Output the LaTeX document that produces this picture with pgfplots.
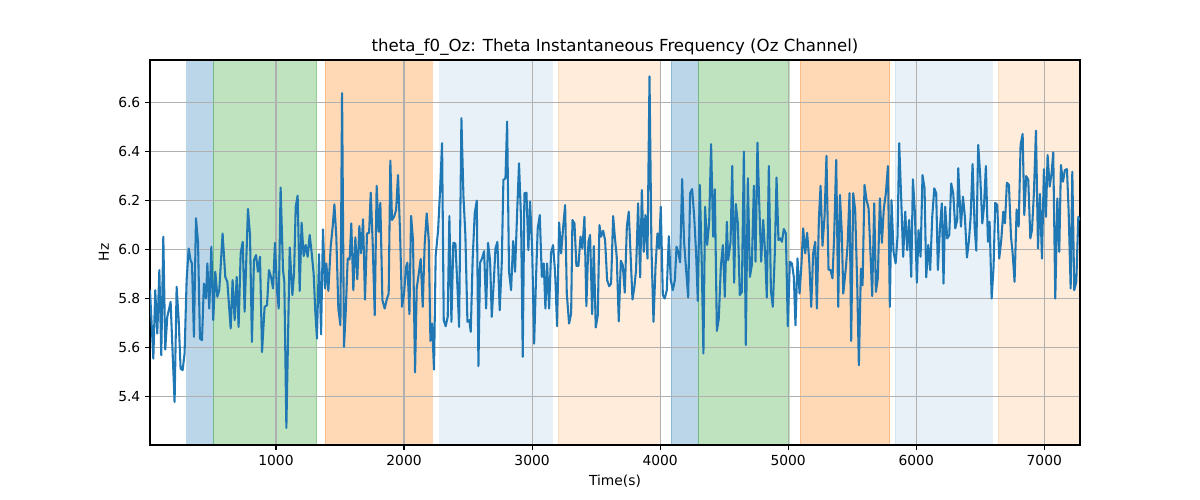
\documentclass[border=0pt]{standalone}
\usepackage{pgfplots}
\pgfplotsset{compat=1.18}
\usepackage{fontspec}
\setmainfont{DejaVu Sans}
\definecolor{tabblue}{HTML}{1F77B4}
\definecolor{tabgreen}{HTML}{2CA02C}
\definecolor{taborange}{HTML}{FF7F0E}
\definecolor{gridgray}{HTML}{B0B0B0}
\pgfplotsset{myspan/.style={draw=#1, fill=#1}}
\begin{document}
\begin{tikzpicture}
\begin{axis}[
  set layers,
  scale only axis, width=9.3in, height=3.85in,
  xmin=16, xmax=7279, ymin=5.203, ymax=6.772,
  xtick={1000,2000,3000,4000,5000,6000,7000},
  ytick={5.4,5.6,5.8,6.0,6.2,6.4,6.6},
  xtick pos=bottom, ytick pos=left,
  /pgf/number format/assume math mode=true,
  xticklabel style={/pgf/number format/1000 sep={}},
  yticklabel style={/pgf/number format/fixed,/pgf/number format/fixed zerofill,/pgf/number format/precision=1},
  tick label style={font=\fontsize{10}{12}\selectfont},
  label style={font=\fontsize{10}{12}\selectfont},
  title style={font=\fontsize{12}{14}\selectfont, yshift=-6.5pt},
  grid=major, grid style={color=gridgray, line width=0.8pt},
  tick align=outside, major tick length=3.5pt,
  tick style={black, line width=0.8pt},
  axis line style={line width=0.8pt},
  title={theta\_f0\_Oz: Theta Instantaneous Frequency (Oz Channel)},
  xlabel={Time(s)}, ylabel={Hz},
]
\pgfonlayer{axis background}
\addplot[myspan=tabblue, draw opacity=0.3, fill opacity=0.3] coordinates {(302,5.203) (302,6.772) (511,6.772) (511,5.203)} -- cycle;
\addplot[myspan=tabgreen, draw opacity=0.3, fill opacity=0.3] coordinates {(511,5.203) (511,6.772) (1318,6.772) (1318,5.203)} -- cycle;
\addplot[myspan=taborange, draw opacity=0.3, fill opacity=0.3] coordinates {(1381,5.203) (1381,6.772) (2222,6.772) (2222,5.203)} -- cycle;
\addplot[myspan=tabblue, draw opacity=0.1, fill opacity=0.1] coordinates {(2279,5.203) (2279,6.772) (3154,6.772) (3154,5.203)} -- cycle;
\addplot[myspan=taborange, draw opacity=0.15, fill opacity=0.15] coordinates {(3201,5.203) (3201,6.772) (4000,6.772) (4000,5.203)} -- cycle;
\addplot[myspan=tabblue, draw opacity=0.3, fill opacity=0.3] coordinates {(4086,5.203) (4086,6.772) (4294,6.772) (4294,5.203)} -- cycle;
\addplot[myspan=tabgreen, draw opacity=0.3, fill opacity=0.3] coordinates {(4294,5.203) (4294,6.772) (5005,6.772) (5005,5.203)} -- cycle;
\addplot[myspan=taborange, draw opacity=0.3, fill opacity=0.3] coordinates {(5091,5.203) (5091,6.772) (5792,6.772) (5792,5.203)} -- cycle;
\addplot[myspan=tabblue, draw opacity=0.1, fill opacity=0.1] coordinates {(5834,5.203) (5834,6.772) (6591,6.772) (6591,5.203)} -- cycle;
\addplot[myspan=taborange, draw opacity=0.15, fill opacity=0.15] coordinates {(6638,5.203) (6638,6.772) (7279,6.772) (7279,5.203)} -- cycle;
\endpgfonlayer
% signal
\addplot[tabblue, line width=1.5pt, line join=round, no markers] table {
x y
16 5.834
42 5.555
57 5.834
73 5.657
89 5.916
104 5.569
120 6.052
135 5.592
151 5.725
177 5.786
208 5.378
224 5.848
240 5.712
255 5.514
271 5.508
286 5.576
302 5.875
318 6.004
333 5.956
344 5.943
359 5.644
375 6.127
391 6.031
406 5.637
422 5.630
437 5.861
453 5.800
464 5.943
479 5.759
495 6.011
510 5.712
526 5.909
542 5.807
557 5.834
583 6.065
604 5.888
620 5.868
646 5.678
661 5.875
677 5.712
693 5.888
708 5.684
724 5.984
740 6.031
755 5.746
781 6.165
797 6.059
812 5.623
828 5.956
844 5.977
859 5.909
875 5.970
891 5.582
911 5.766
930 5.773
945 5.916
961 5.888
977 5.841
992 6.027
1008 5.834
1021 5.759
1036 6.252
1055 5.916
1065 5.868
1081 5.272
1107 6.008
1128 5.814
1141 5.902
1154 6.174
1169 6.219
1185 5.831
1200 6.109
1216 5.973
1232 6.018
1247 5.970
1263 6.059
1279 5.984
1294 5.902
1307 5.746
1320 5.637
1336 5.981
1352 5.654
1367 6.082
1383 5.841
1393 5.943
1409 5.831
1427 6.011
1443 6.095
1456 6.184
1471 6.052
1487 5.759
1503 5.691
1516 6.637
1531 5.603
1544 5.739
1560 5.963
1575 5.959
1588 6.106
1604 5.834
1620 6.049
1635 5.878
1651 6.095
1664 5.984
1680 6.123
1695 5.796
1711 6.065
1727 6.068
1740 6.231
1755 6.027
1771 5.732
1786 6.259
1802 6.072
1815 6.190
1831 5.793
1849 5.759
1865 5.796
1880 5.820
1893 6.362
1906 6.120
1922 6.133
1938 6.161
1953 6.303
1969 6.065
1984 5.766
2000 5.820
2016 5.929
2026 5.946
2042 5.736
2055 6.137
2070 6.038
2086 5.499
2099 5.841
2115 5.902
2130 5.961
2146 5.766
2161 6.020
2177 6.147
2193 6.038
2206 5.627
2219 5.698
2234 5.510
2247 5.973
2266 6.079
2281 6.235
2297 6.433
2310 5.712
2325 5.687
2341 5.725
2354 6.136
2370 5.705
2385 6.027
2401 6.024
2417 5.848
2430 5.684
2448 6.535
2464 6.215
2479 6.059
2495 5.705
2510 5.712
2521 5.664
2536 5.963
2552 6.147
2568 6.199
2581 5.524
2594 5.946
2609 5.963
2625 5.993
2641 5.759
2656 6.027
2672 5.954
2685 5.725
2700 5.861
2714 6.004
2729 6.031
2747 5.752
2763 5.943
2776 6.283
2792 6.290
2805 6.521
2820 5.909
2836 5.834
2852 6.034
2867 5.909
2883 6.147
2898 6.351
2914 6.120
2927 5.562
2940 6.229
2956 6.231
2971 5.997
2984 6.195
3000 6.011
3016 5.616
3031 5.888
3044 6.086
3060 6.140
3076 5.888
3091 5.943
3104 5.759
3117 5.943
3133 5.759
3148 5.984
3164 6.018
3180 5.902
3195 5.687
3211 6.110
3227 5.984
3242 6.086
3258 6.181
3271 5.820
3289 5.698
3305 5.739
3315 6.120
3331 6.106
3346 5.933
3362 5.933
3378 6.052
3393 6.004
3409 6.133
3424 5.769
3440 6.031
3453 6.059
3469 5.736
3482 6.014
3497 5.682
3513 5.732
3526 6.099
3539 6.052
3555 6.076
3570 6.038
3586 5.875
3602 5.850
3617 5.861
3633 6.136
3646 6.052
3661 5.970
3677 5.707
3693 5.954
3708 5.936
3724 5.824
3740 6.093
3755 6.154
3771 5.956
3784 5.796
3799 5.848
3812 5.916
3828 6.188
3844 5.886
3857 6.242
3872 5.990
3885 6.140
3901 5.963
3917 6.705
3932 6.011
3948 5.705
3964 5.929
3979 6.065
3992 6.004
4005 6.174
4021 5.814
4036 5.800
4052 5.834
4068 6.054
4083 5.875
4099 5.834
4115 5.875
4128 6.011
4141 5.990
4156 5.947
4172 6.287
4187 6.031
4203 5.916
4219 5.804
4234 6.229
4250 6.246
4266 6.133
4281 5.984
4294 5.790
4310 6.263
4325 5.943
4338 5.576
4351 6.174
4367 6.018
4383 6.110
4398 6.429
4414 6.052
4427 6.245
4443 5.668
4458 5.718
4474 5.929
4490 6.018
4505 5.807
4521 6.113
4531 5.956
4550 6.031
4563 6.340
4578 5.864
4591 6.185
4607 6.106
4622 5.814
4638 5.827
4654 6.399
4669 5.610
4685 6.290
4701 5.888
4716 5.936
4732 6.259
4745 5.950
4760 6.435
4773 6.201
4789 5.950
4805 6.120
4820 5.984
4833 5.804
4849 6.340
4865 5.834
4880 5.766
4896 5.990
4909 6.293
4924 6.038
4940 6.045
4951 6.031
4966 6.083
4982 6.065
4997 5.687
5013 5.950
5029 5.943
5044 5.888
5057 5.691
5073 5.963
5089 5.820
5104 5.943
5117 6.086
5133 5.984
5148 6.068
5164 5.956
5180 5.766
5195 5.984
5211 6.031
5224 5.759
5240 6.127
5253 6.259
5268 6.015
5284 6.133
5299 6.381
5315 5.918
5331 5.916
5346 5.882
5359 6.052
5375 6.365
5391 5.766
5404 6.222
5419 6.065
5430 5.820
5451 5.929
5464 6.018
5479 6.229
5492 5.627
5508 6.229
5523 6.161
5539 5.861
5552 5.528
5568 5.922
5581 5.854
5596 6.263
5612 6.201
5628 6.167
5641 6.004
5656 5.810
5672 6.188
5685 5.827
5700 5.882
5716 6.208
5732 6.027
5747 6.167
5763 6.229
5779 6.340
5794 5.766
5807 6.201
5823 5.990
5839 5.943
5854 6.052
5867 6.433
5883 6.201
5898 5.970
5914 6.154
5930 5.997
5945 6.120
5961 5.888
5974 6.286
5990 6.147
6005 5.864
6018 6.079
6034 5.970
6049 6.303
6065 6.249
6078 5.886
6094 6.018
6109 5.916
6125 6.133
6141 6.249
6156 6.229
6169 5.916
6185 6.086
6200 6.188
6213 5.861
6226 6.174
6242 6.045
6258 6.059
6273 6.269
6289 6.229
6305 6.086
6320 6.120
6328 6.331
6349 6.093
6365 6.215
6380 6.133
6396 5.967
6412 6.038
6425 6.133
6440 6.348
6456 6.093
6469 5.995
6484 6.426
6500 6.297
6516 6.106
6529 6.174
6544 6.340
6560 6.031
6573 6.113
6589 5.800
6604 5.929
6617 6.190
6633 6.181
6648 5.963
6664 6.038
6680 6.154
6693 6.106
6708 6.272
6724 6.263
6740 6.052
6753 5.984
6768 5.868
6784 6.163
6800 6.093
6815 6.426
6831 6.471
6844 6.140
6859 6.299
6875 6.283
6891 6.045
6904 6.079
6919 6.229
6935 6.484
6951 6.004
6966 6.226
6982 5.963
6997 6.327
7013 6.133
7026 6.385
7042 6.256
7057 6.310
7070 6.395
7086 5.800
7102 6.208
7117 5.990
7130 6.344
7146 6.276
7161 6.324
7177 6.327
7190 6.161
7206 5.841
7219 6.317
7234 5.834
7250 5.868
7266 6.133
7279 6.120
};
\end{axis}
\useasboundingbox (-1.5in,-0.55in) rectangle (10.5in,4.45in);
\end{tikzpicture}
\end{document}
